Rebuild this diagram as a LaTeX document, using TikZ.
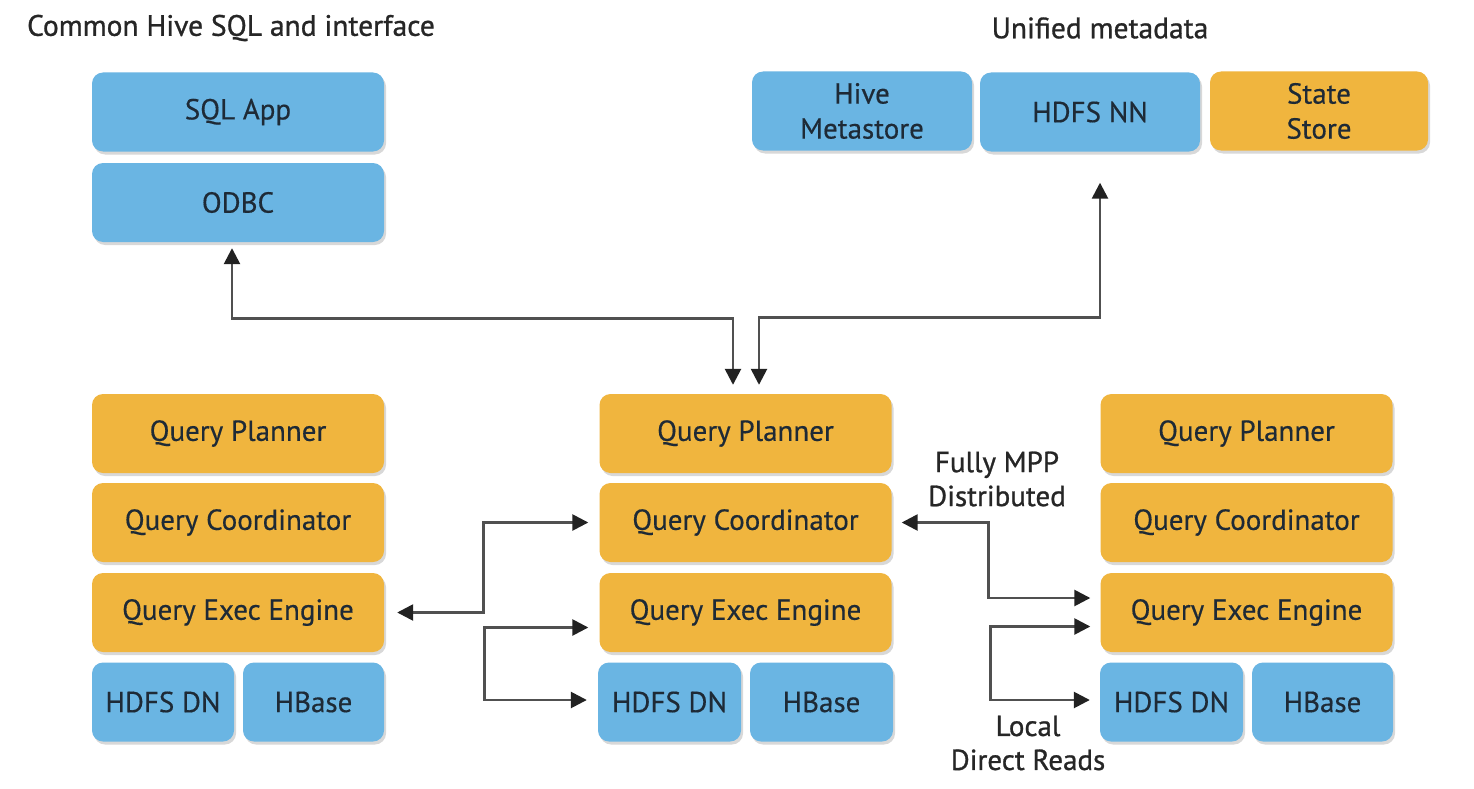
\documentclass[tikz,border=0pt]{standalone}
\usepackage{fontspec}
\setmainfont{PT Sans}
\newfontfamily\boxfont{PT Sans}[FakeBold=0.4]
\newfontfamily\ttlfont{PT Sans}[FakeBold=0.9]
\usetikzlibrary{arrows.meta,shadows}
\definecolor{boxblue}{HTML}{6AB5E3}
\definecolor{boxorange}{HTML}{F0B53E}
\definecolor{txt}{HTML}{1E2A36}
\definecolor{lin}{HTML}{505050}
\definecolor{tip}{HTML}{222222}
\tikzset{
  blk/.style={rectangle, rounded corners=11pt, minimum height=79pt, inner sep=2pt,
    text=txt, align=center, font=\boxfont\fontsize{29}{35}\selectfont,
    drop shadow={shadow xshift=2pt, shadow yshift=-3pt, opacity=0.25, fill=black!60}},
  bluebox/.style={blk, fill=boxblue},
  orangebox/.style={blk, fill=boxorange},
  wide/.style={minimum width=292pt},
  half/.style={minimum width=142pt},
  meta/.style={minimum width=220pt},
  ttl/.style={font=\ttlfont\fontsize{29.5}{32}\selectfont, text=black!85},
  lbl/.style={font=\ttlfont\fontsize{29}{34}\selectfont, text=black!85, align=center},
  conn/.style={draw=lin, line width=2.6pt,
    {Triangle[length=16pt,width=16pt,color=tip]}-{Triangle[length=16pt,width=16pt,color=tip]}}
}
\begin{document}
\begin{tikzpicture}[x=1pt,y=-1pt]
\path[use as bounding box, fill=white] (0,0) rectangle (1474,789);

% titles
\node[ttl] (t1) at (231,28) {Common Hive SQL and interface};
\node[ttl] (t2) at (1100,28) {Unified metadata};

% top-left
\node[bluebox, wide] (sql) at (238,112) {SQL App};
\node[bluebox, wide] (odbc) at (238,202.5) {ODBC};

% top-right
\node[bluebox, meta] (hms) at (862,111) {Hive\\Metastore};
\node[bluebox, meta] (hnn) at (1090,112) {HDFS NN};
\node[orangebox, minimum width=218pt] (ss) at (1319,111) {State\\Store};

% left column
\node[orangebox, wide] (lqp) at (238,433.5) {Query Planner};
\node[orangebox, wide] (lqc) at (238,522.5) {Query Coordinator};
\node[orangebox, wide] (lqe) at (238,612.5) {Query Exec Engine};
\node[bluebox, half] (lhd) at (163,702) {HDFS DN};
\node[bluebox, minimum width=141pt] (lhb) at (313.5,702) {HBase};

% middle column
\node[orangebox, wide] (mqp) at (745.5,433.5) {Query Planner};
\node[orangebox, wide] (mqc) at (745.5,522.5) {Query Coordinator};
\node[orangebox, wide] (mqe) at (745.5,612.5) {Query Exec Engine};
\node[bluebox, minimum width=143pt] (mhd) at (669.5,702) {HDFS DN};
\node[bluebox, minimum width=143pt] (mhb) at (821.5,702) {HBase};

% right column
\node[orangebox, wide] (rqp) at (1246.5,433.5) {Query Planner};
\node[orangebox, wide] (rqc) at (1246.5,522.5) {Query Coordinator};
\node[orangebox, wide] (rqe) at (1246.5,612.5) {Query Exec Engine};
\node[bluebox, minimum width=143pt] (rhd) at (1171.5,702) {HDFS DN};
\node[bluebox, minimum width=141pt] (rhb) at (1322.5,702) {HBase};

% labels
\node[lbl] (l1) at (997,479) {Fully MPP\\Distributed};
\node[lbl] (l2) at (1028,743) {Local\\Direct Reads};

% connectors
\draw[conn] ([xshift=-6pt,yshift=-6pt]odbc.south) -- ++(0,70) -| ([xshift=-12.5pt,yshift=9pt]mqp.north);
\draw[conn] ([xshift=10pt,yshift=-31pt]hnn.south) -- ++(0,135) -| ([xshift=13.5pt,yshift=9pt]mqp.north);
\draw[conn] ([xshift=13pt]lqe.east) -- ++(86,0) |- ([xshift=-11pt]mqc.west);
\draw[conn] ([xshift=-11pt,yshift=-15pt]mqe.west) -- ++(-104,0) |- ([xshift=-11pt,yshift=2pt]mhd.west);
\draw[conn] ([xshift=10pt]mqc.east) -- ++(87,0) |- ([xshift=-10pt,yshift=14.5pt]rqe.west);
\draw[conn] ([xshift=-10pt,yshift=-14pt]rqe.west) -- ++(-100,0) |- ([xshift=-10pt,yshift=2pt]rhd.west);
\end{tikzpicture}
\end{document}
